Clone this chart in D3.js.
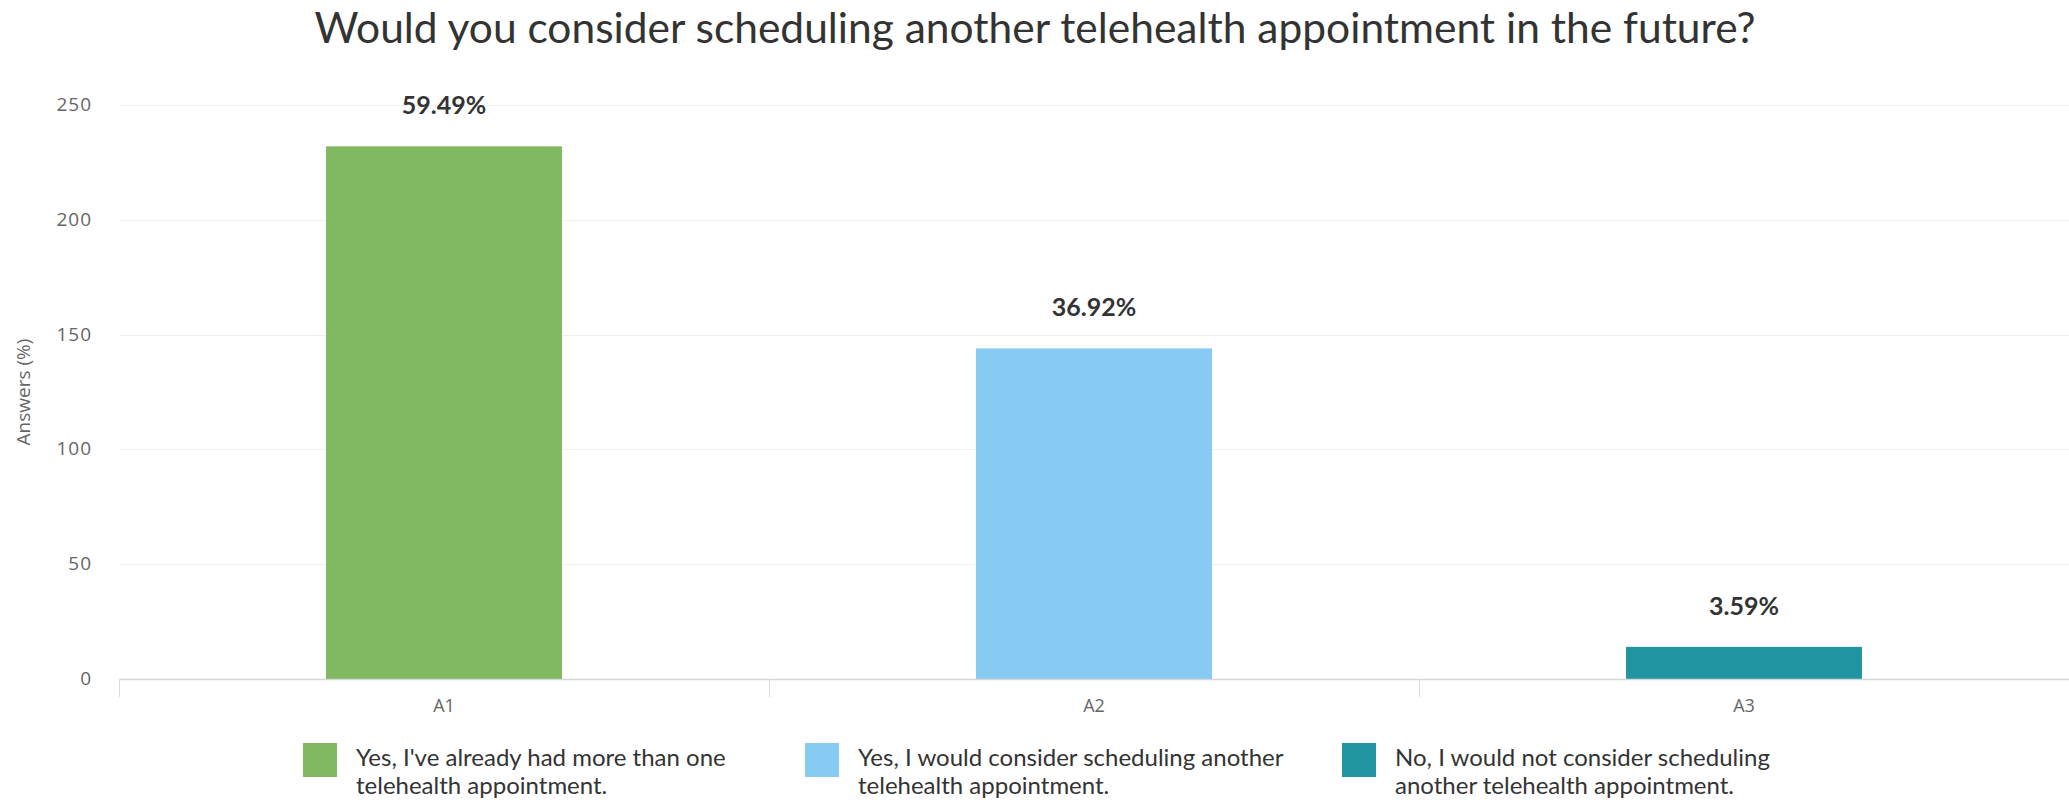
<!DOCTYPE html>
<html>
<head>
  <script src="https://cdnjs.cloudflare.com/ajax/libs/d3/7.8.5/d3.min.js"></script>
  <style>
    body {
      margin: 0;
      background: #fff;
    }
    svg text {
      font-family: Lato, "Open Sans", sans-serif;
    }
    .grid line {
      stroke: #efefef;
      stroke-width: 1px;
    }
    .y-label {
      font-family: "Open Sans", sans-serif !important;
      font-size: 19px;
      letter-spacing: 1px;
      fill: #666;
    }
    .x-label {
      font-family: "Open Sans", sans-serif !important;
      font-size: 18px;
      fill: #666;
    }
    .value-label {
      font-size: 25px;
      font-weight: bold;
      fill: #333;
    }
    .legend-text {
      font-size: 24px;
      fill: #333;
    }
  </style>
</head>
<body>
  <div id="chart"></div>

  <script>
    // data
    const categories = ["A1", "A2", "A3"];
    const answers = [232, 144, 14];
    const percents = ["59.49%", "36.92%", "3.59%"];
    const legendLabels = [
      ["Yes, I've already had more than one", "telehealth appointment."],
      ["Yes, I would consider scheduling another", "telehealth appointment."],
      ["No, I would not consider scheduling", "another telehealth appointment."]
    ];
    const yTicks = [0, 50, 100, 150, 200, 250];
    const colors = ["#80b962", "#88cbf2", "#2095a1"];

    const width = 2069;
    const height = 800;
    const margin = { top: 105, right: 0, bottom: 121, left: 119 };

    const svg = d3.select("#chart")
      .append("svg")
      .attr("width", width)
      .attr("height", height);

    // title
    svg.append("text")
      .attr("x", 1035)
      .attr("y", 43)
      .attr("text-anchor", "middle")
      .style("font-size", "42.5px")
      .style("fill", "#333")
      .text("Would you consider scheduling another telehealth appointment in the future?");

    const x = d3.scaleBand()
      .domain(categories)
      .range([margin.left, width - margin.right])
      .paddingInner(0.637)
      .paddingOuter(0.3185);

    const xCat = d3.scaleBand()
      .domain(categories)
      .range([margin.left, width - margin.right]);

    const y = d3.scaleLinear()
      .domain([0, 250])
      .range([height - margin.bottom, margin.top]);

    // grid lines
    svg.append("g")
      .attr("class", "grid")
      .selectAll("line")
      .data(yTicks.filter(t => t > 0))
      .enter()
      .append("line")
      .attr("x1", margin.left)
      .attr("x2", width)
      .attr("y1", d => Math.round(y(d)) + 0.5)
      .attr("y2", d => Math.round(y(d)) + 0.5);

    // y tick labels
    svg.append("g")
      .selectAll("text")
      .data(yTicks)
      .enter()
      .append("text")
      .attr("class", "y-label")
      .attr("x", 92)
      .attr("y", d => y(d) + 6)
      .attr("text-anchor", "end")
      .text(d => d);

    // y axis title
    svg.append("text")
      .attr("transform", `translate(30, ${(y(0) + y(250)) / 2}) rotate(-90)`)
      .attr("text-anchor", "middle")
      .style("font-family", "'Open Sans', sans-serif")
      .style("font-size", "19px")
      .style("fill", "#666")
      .text("Answers (%)");

    // bars
    svg.append("g")
      .selectAll("rect")
      .data(answers)
      .enter()
      .append("rect")
      .attr("x", (d, i) => x(categories[i]))
      .attr("y", d => y(d))
      .attr("width", x.bandwidth())
      .attr("height", d => y(0) - y(d))
      .attr("fill", (d, i) => colors[i]);

    // value labels
    svg.append("g")
      .selectAll("text")
      .data(answers)
      .enter()
      .append("text")
      .attr("class", "value-label")
      .attr("x", (d, i) => x(categories[i]) + x.bandwidth() / 2)
      .attr("y", d => y(d) - 32)
      .attr("text-anchor", "middle")
      .text((d, i) => percents[i]);

    // x axis line + ticks
    const xAxis = svg.append("g");
    xAxis.append("line")
      .attr("x1", margin.left)
      .attr("x2", width)
      .attr("y1", y(0) + 0.5)
      .attr("y2", y(0) + 0.5)
      .attr("stroke", "#d6d6d6")
      .attr("stroke-width", 1.5);

    xAxis.selectAll(".tick")
      .data(categories)
      .enter()
      .append("line")
      .attr("x1", d => Math.round(xCat(d)) + 0.5)
      .attr("x2", d => Math.round(xCat(d)) + 0.5)
      .attr("y1", y(0))
      .attr("y2", y(0) + 18)
      .attr("stroke", "#dcdcdc")
      .attr("stroke-width", 1);

    xAxis.selectAll(".x-label")
      .data(categories)
      .enter()
      .append("text")
      .attr("class", "x-label")
      .attr("x", d => xCat(d) + xCat.bandwidth() / 2)
      .attr("y", y(0) + 33)
      .attr("text-anchor", "middle")
      .text(d => d);

    // legend
    const legendX = [303, 805, 1342];
    const legend = svg.append("g")
      .selectAll("g")
      .data(legendLabels)
      .enter()
      .append("g")
      .attr("transform", (d, i) => `translate(${legendX[i]}, 743)`);

    legend.append("rect")
      .attr("width", 34)
      .attr("height", 34)
      .attr("fill", (d, i) => colors[i]);

    legend.append("text")
      .attr("class", "legend-text")
      .attr("x", 53)
      .attr("y", 23)
      .text(d => d[0]);

    legend.append("text")
      .attr("class", "legend-text")
      .attr("x", 53)
      .attr("y", 51)
      .text(d => d[1]);
  </script>
</body>
</html>
